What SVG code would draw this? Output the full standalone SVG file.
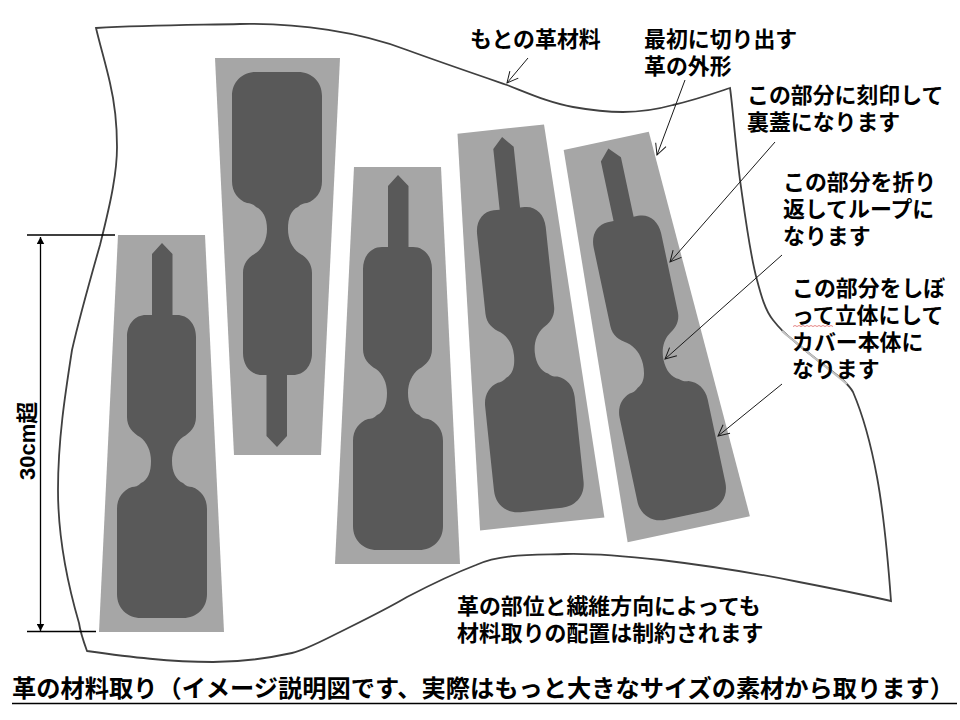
<svg xmlns="http://www.w3.org/2000/svg" xmlns:xlink="http://www.w3.org/1999/xlink" width="960" height="720" viewBox="0 0 960 720">
<style>
.t{font-family:"Noto Sans CJK JP","Liberation Sans",sans-serif;font-weight:700;font-size:21.9px;fill:#000}
.outline{fill:none;stroke:#404040;stroke-width:1.8;stroke-linejoin:miter}
.pointer{fill:none;stroke:#1a1a1a;stroke-width:1;marker-end:url(#open)}
.dim{fill:none;stroke:#000;stroke-width:1.3}
.dimv{fill:none;stroke:#000;stroke-width:1.3;marker-start:url(#solid-s);marker-end:url(#solid)}
</style>
<defs>
<marker id="open" markerUnits="userSpaceOnUse" markerWidth="16" markerHeight="16" refX="13" refY="8" orient="auto" overflow="visible">
<path d="M2 2.5L13 8L2 13.5" fill="none" stroke="#1a1a1a" stroke-width="1"/>
</marker>
<marker id="solid" markerUnits="userSpaceOnUse" markerWidth="8" markerHeight="8" refX="7" refY="4" orient="auto">
<path d="M0 0.3L7 4L0 7.7Z" fill="#000"/>
</marker>
<marker id="solid-s" markerUnits="userSpaceOnUse" markerWidth="8" markerHeight="8" refX="0" refY="4" orient="auto">
<path d="M7 0.3L0 4L7 7.7Z" fill="#000"/>
</marker>
<g id="strip">
<polygon points="118,235 205,235 224,632 99,632" fill="#a6a6a6"/>
<path fill="#595959" d="M162 243L172.500 254V315H177C188 315 196 324 196 337V417C196 427 190 433 183 437C176 442 172 451 172 461C172 472 176 480 183 483C186 486 189 487 192 487C201 490 207 498 207 509V594C207 608 197 618 183 618H141C127 618 117 608 117 594V509C117 498 123 490 132 487C135 487 138 486 141 483C148 480 151 472 151 461C151 451 147 442 140 437C133 433 127 427 127 417V337C127 324 135 315 146 315H152V254Z"/>
</g>
</defs>
<rect width="960" height="720" fill="#fff"/>
<g id="leather">
<path class="outline" d="M96 28C150 25 200 25 240 24C300 23 360 32 407 50C440 62 475 74 507 85C530 94 550 103 573 107C590 110 605 112 623 112C640 112 655 110 673 105C695 100 712 94 730 88C732 100 735 140 740 180C745 215 750 255 757 280C761 295 765 310 773 320C780 329 785 334 793 340C810 355 828 368 843 380C848 385 851 388 853 392C865 420 872 450 877 477C884 515 888 560 891 601C860 594 830 588 799 582C755 573 710 566 661 560C625 556 595 553 564 554C530 555 500 554 476 565C450 575 430 585 407 597C385 610 360 622 338 633C320 642 305 650 292 653C260 660 235 662 213 662C170 662 130 657 87 651C83 640 80 630 79 623C65 575 58 530 58 490C58 440 65 395 72 350C80 315 90 280 100 245C105 225 110 205 113 187C116 170 117 158 117 147C117 125 114 100 110 83C106 65 100 45 96 28Z"/>
<path d="M782 331C786 335 789 337 793 340C810 355 828 368 847 384" fill="none" stroke="#c4c4c4" stroke-width="2"/>
</g>
<g id="piece-1"><use xlink:href="#strip" href="#strip"/></g>
<g id="piece-2"><use xlink:href="#strip" href="#strip" transform="translate(439 690) scale(-1 -1)"/></g>
<g id="piece-3"><use xlink:href="#strip" href="#strip" transform="translate(236 -68)"/></g>
<g id="piece-4"><use xlink:href="#strip" href="#strip" transform="translate(521.500 326.500) rotate(-6) translate(-161.500 -433.500)"/></g>
<g id="piece-5"><use xlink:href="#strip" href="#strip" transform="translate(647.500 335) rotate(-12) translate(-161.500 -433.500)"/></g>
<g id="connectors">
<path class="dim" d="M27 235H115M27 631.500H96"/>
<path class="dimv" d="M40.500 237V631"/>
<path class="pointer" d="M528 58L507 83"/>
<path class="pointer" d="M685 80L657 155"/>
<path class="pointer" d="M775 142L670 262"/>
<path class="pointer" d="M782 255L665 359"/>
<path class="pointer" d="M782 384L718 436"/>
</g>
<g id="label-material"><text class="t" x="470" y="47">もとの革材料</text></g>
<g id="label-outer"><text class="t" x="644" y="47">最初に切り出す</text><text class="t" x="644" y="74">革の外形</text></g>
<g id="label-stamp"><text class="t" x="747" y="103">この部分に刻印して</text><text class="t" x="747" y="130">裏蓋になります</text></g>
<g id="label-loop"><text class="t" x="783" y="190">この部分を折り</text><text class="t" x="783" y="217">返してループに</text><text class="t" x="783" y="244">なります</text></g>
<g id="label-body"><text class="t" x="792" y="296">この部分をしぼ</text><text class="t" x="792" y="323">って立体にして</text><text class="t" x="792" y="350">カバー本体に</text><text class="t" x="792" y="377">なります</text>
<path d="M793 326.500l2-1 2 1 2-1 2 1 2-1 2 1 2-1 2 1 2-1 2 1 2-1 2 1 2-1 2 1 2-1 2 1 2-1 2 1 2-1 2 1" fill="none" stroke="#d66" stroke-width="0.8"/></g>
<g id="label-constraint"><text class="t" x="457" y="614">革の部位と繊維方向によっても</text><text class="t" x="457" y="641">材料取りの配置は制約されます</text></g>
<g id="label-size"><text transform="translate(35 480) rotate(-90)" style="font-family:'Liberation Sans','Noto Sans CJK JP',sans-serif;font-weight:700;font-size:22px">30cm超</text></g>
<g id="title"><text class="t" x="12" y="697" style="font-size:24px" textLength="942" lengthAdjust="spacingAndGlyphs">革の材料取り（イメージ説明図です、実際はもっと大きなサイズの素材から取ります）</text>
<path d="M12 703.500H957" stroke="#000" stroke-width="1.5"/></g>
</svg>
